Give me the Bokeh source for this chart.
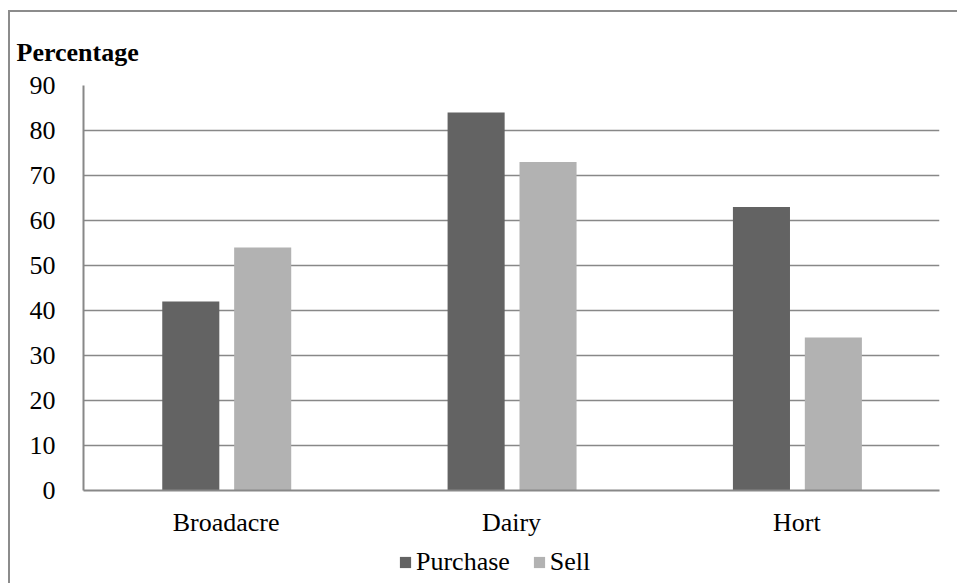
from bokeh.plotting import figure
from bokeh.models import ColumnDataSource, FactorRange, Range1d, Legend, LegendItem, FixedTicker
from bokeh.layouts import column
from bokeh.transform import dodge
from bokeh.embed import file_html
from bokeh.resources import INLINE

categories = ["Broadacre", "Dairy", "Hort"]
purchase = [42, 84, 63]
sell = [54, 73, 34]
y_ticks = [0, 10, 20, 30, 40, 50, 60, 70, 80, 90]
series_names = ["Purchase", "Sell"]
series_colors = ["#636363", "#b2b2b2"]

src = ColumnDataSource(dict(cat=categories, purchase=purchase, sell=sell))

FONT = "Liberation Serif"
GRID = "#888888"
FS = "26px"

p = figure(x_range=FactorRange(*categories), y_range=Range1d(0, 90),
           width=947, height=530, output_backend="svg", toolbar_location=None,
           min_border_left=73, min_border_right=18, min_border_top=73, min_border_bottom=52)
p.outline_line_color = None

p.vbar(x=dodge("cat", -0.124, range=p.x_range), top="purchase", width=0.2,
       source=src, fill_color=series_colors[0], line_color=None)
p.vbar(x=dodge("cat", 0.128, range=p.x_range), top="sell", width=0.2,
       source=src, fill_color=series_colors[1], line_color=None)

p.xgrid.grid_line_color = None
p.ygrid.grid_line_color = GRID
p.ygrid.grid_line_width = 1.5
p.yaxis.ticker = FixedTicker(ticks=y_ticks)

for ax in (p.xaxis, p.yaxis):
    ax.axis_line_color = GRID
    ax.axis_line_width = 2
    ax.major_tick_line_color = None
    ax.minor_tick_line_color = None
    ax.major_label_text_font = FONT
    ax.major_label_text_font_size = FS
    ax.major_label_text_color = "black"
p.yaxis.major_label_standoff = 22
p.xaxis.major_label_standoff = 11

p.title.text = "Percentage"
p.title.text_font = FONT
p.title.text_font_size = FS
p.title.text_font_style = "bold"
p.title.text_color = "black"
p.title.align = "left"
p.title.offset = -67
p.title.standoff = 37

# legend strip
lp = figure(width=947, height=41, output_backend="svg", toolbar_location=None,
            x_axis_type=None, y_axis_type=None, min_border=0,
            min_border_left=0, min_border_right=0, min_border_top=0, min_border_bottom=0,
            x_range=Range1d(0, 1), y_range=Range1d(0, 1))
lp.outline_line_color = None
lp.xgrid.grid_line_color = None
lp.ygrid.grid_line_color = None
items = []
for name, col in zip(series_names, series_colors):
    r = lp.vbar(x=[-10], top=[-10], width=0.1, fill_color=col, line_color=None)
    items.append(LegendItem(label=name, renderers=[r]))
legend = Legend(items=items, orientation="horizontal", location=(315, 6),
                label_text_font=FONT, label_text_font_size=FS, label_text_color="black",
                glyph_width=14, glyph_height=14, spacing=22, label_standoff=4,
                border_line_color=None, background_fill_alpha=0, padding=0, margin=0)
lp.add_layout(legend)

layout = column(p, lp, spacing=0,
                styles={"border-left": "2px solid #8c8c8c", "border-top": "2px solid #8c8c8c",
                        "margin-left": "8px", "margin-top": "10px"})

open("out.html", "w").write(file_html(layout, INLINE))
